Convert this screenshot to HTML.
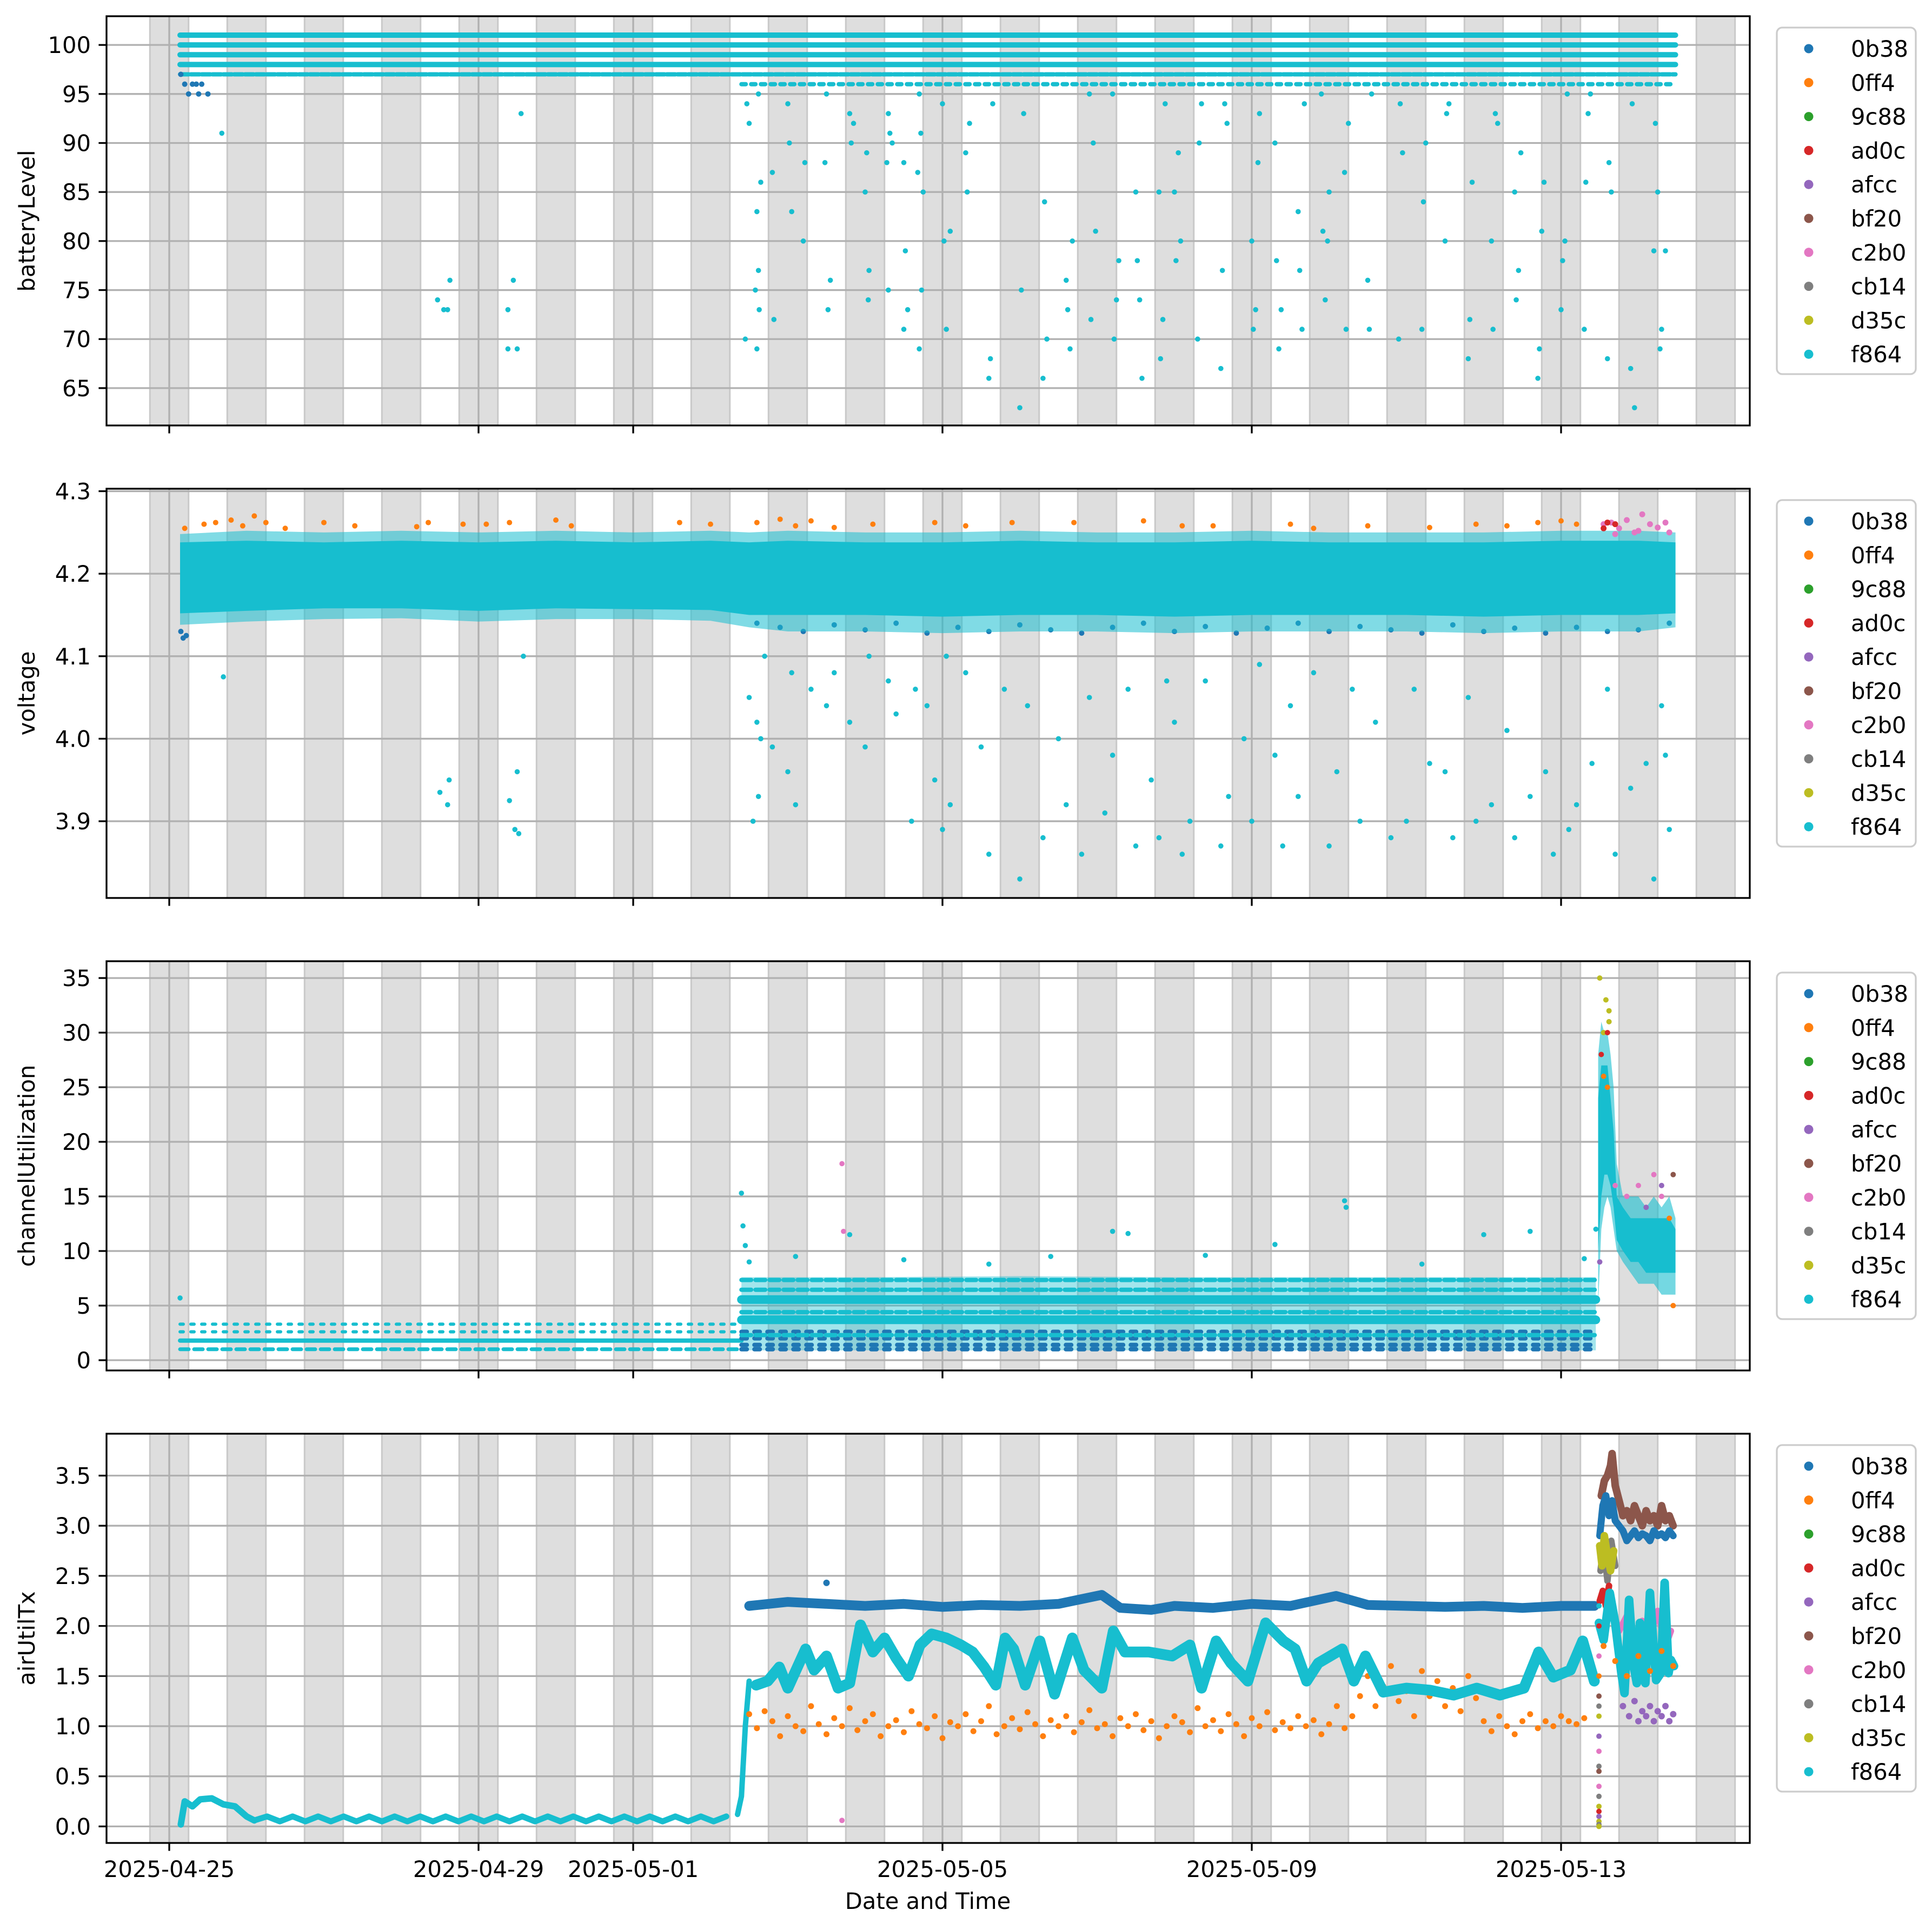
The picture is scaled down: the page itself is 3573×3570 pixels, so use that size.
<!DOCTYPE html>
<html><head><meta charset="utf-8">
<style>
html,body{margin:0;padding:0;background:#fff;}
svg{display:block;font-family:"DejaVu Sans","Liberation Sans",sans-serif;}
</style></head>
<body>
<svg id="fig" xmlns="http://www.w3.org/2000/svg" width="3573" height="3570" viewBox="0 0 3573 3570">
<rect x="0" y="0" width="3573" height="3570" fill="#fff"/>
</svg>
<script>
// ---------- data ----------
const seriesNames = ['0b38','0ff4','9c88','ad0c','afcc','bf20','c2b0','cb14','d35c','f864'];
const xTickDays = [0,4,6,10,14,18];
const xTickLabels = ['2025-04-25','2025-04-29','2025-05-01','2025-05-05','2025-05-09','2025-05-13'];
const nightStarts = [-0.25,0.75,1.75,2.75,3.75,4.75,5.75,6.75,7.75,8.75,9.75,10.75,11.75,12.75,13.75,14.75,15.75,16.75,17.75,18.75,19.75];
const yLabels = ['batteryLevel','voltage','channelUtilization','airUtilTx'];
const p1Ticks = [65,70,75,80,85,90,95,100];
const p2Ticks = [3.9,4.0,4.1,4.2,4.3];
const p3Ticks = [0,5,10,15,20,25,30,35];
const p4Ticks = [0.0,0.5,1.0,1.5,2.0,2.5,3.0,3.5];

// panel 1: battery
const p1Levels = [101,100,99,98,97];
const p1LevelStart = 0.14, p1LevelEnd = 19.48;
const p1Row96Start = 7.4;
const p1EarlyBlue = [[0.2,96],[0.3,96],[0.35,96],[0.42,96],[0.25,95],[0.38,95],[0.5,95],[0.15,97]];
const p1Outliers = [[0.68,91],[3.47,74],[3.55,73],[3.63,76],[3.6,73],[4.38,73],[4.45,76],[4.38,69],[4.5,69],[4.55,93],
[7.45,70],[7.47,94],[7.5,92],[7.6,83],[7.62,77],[7.58,75],[7.63,73],[7.6,69],[7.65,86],[7.62,95],[7.8,87],[7.82,72],
[8.0,94],[8.02,90],[8.05,83],[8.2,80],[8.22,88],[8.5,95],[8.48,88],[8.52,73],[8.55,76],[8.8,93],[8.82,90],[8.85,92],
[9.0,85],[9.02,89],[9.05,77],[9.04,74],[9.3,93],[9.32,91],[9.28,88],[9.35,90],[9.3,75],[9.5,88],[9.52,79],[9.55,73],[9.5,71],
[9.7,95],[9.72,91],[9.68,87],[9.75,85],[9.7,69],[9.73,75],[10.0,94],[10.02,80],[10.05,71],[10.1,81],[10.3,89],[10.32,85],[10.35,92],
[10.6,66],[10.62,68],[10.65,94],[11.0,63],[11.02,75],[11.05,93],[11.3,66],[11.32,84],[11.35,70],[11.6,76],[11.62,73],[11.65,69],[11.68,80],
[11.9,95],[11.92,72],[11.95,90],[11.98,81],[12.2,95],[12.22,70],[12.25,74],[12.28,78],[12.5,85],[12.52,78],[12.55,74],[12.58,66],
[12.8,85],[12.82,68],[12.85,72],[12.88,94],[13.0,85],[13.02,78],[13.05,89],[13.08,80],[13.3,70],[13.32,90],[13.35,94],
[13.6,67],[13.62,77],[13.65,94],[13.68,92],[14.0,80],[14.02,71],[14.05,73],[14.08,88],[14.1,93],[14.3,90],[14.32,78],[14.35,69],[14.38,73],
[14.6,83],[14.62,77],[14.65,71],[14.68,94],[14.9,95],[14.92,81],[14.95,74],[14.98,80],[15.0,85],[15.2,87],[15.22,71],[15.25,92],
[15.5,76],[15.52,71],[15.55,95],[15.9,70],[15.92,94],[15.95,89],[16.2,71],[16.22,84],[16.25,90],[16.5,80],[16.52,93],[16.55,94],
[16.8,68],[16.82,72],[16.85,86],[17.1,80],[17.12,71],[17.15,93],[17.18,92],[17.4,85],[17.42,74],[17.45,77],[17.48,89],
[17.7,66],[17.72,69],[17.75,81],[17.78,86],[18.0,73],[18.02,78],[18.05,80],[18.08,95],[18.3,71],[18.32,86],[18.35,93],[18.38,95],
[18.6,68],[18.62,88],[18.65,85],[18.9,67],[18.92,94],[18.95,63],[19.2,79],[19.22,92],[19.25,85],[19.28,69],[19.3,71],[19.35,79]];

// panel 2: voltage
const p2BandDays = [0.14,1,2,3,4,5,6,7,7.5,8,9,10,11,12,13,14,15,16,17,18,19,19.48];
const p2OuterLo = [4.138,4.142,4.145,4.146,4.142,4.145,4.145,4.143,4.135,4.13,4.13,4.128,4.13,4.13,4.128,4.13,4.13,4.13,4.128,4.13,4.13,4.135];
const p2OuterHi = [4.248,4.252,4.25,4.252,4.25,4.252,4.25,4.252,4.25,4.252,4.25,4.25,4.252,4.25,4.25,4.252,4.25,4.25,4.25,4.252,4.252,4.25];
const p2CoreLo = [4.152,4.155,4.158,4.158,4.155,4.158,4.157,4.156,4.15,4.15,4.15,4.148,4.15,4.15,4.148,4.15,4.15,4.15,4.148,4.15,4.15,4.152];
const p2CoreHi = [4.238,4.24,4.238,4.24,4.238,4.24,4.238,4.24,4.238,4.24,4.238,4.238,4.24,4.238,4.238,4.24,4.238,4.238,4.238,4.24,4.24,4.238];
const p2Orange = [[0.2,4.255],[0.45,4.26],[0.6,4.262],[0.8,4.265],[0.95,4.258],[1.1,4.27],[1.25,4.262],[1.5,4.255],[2.0,4.262],[2.4,4.258],
[3.2,4.257],[3.35,4.262],[3.8,4.26],[4.1,4.26],[4.4,4.262],[5.0,4.265],[5.2,4.258],[6.6,4.262],[7.0,4.26],[7.6,4.262],[7.9,4.266],
[8.1,4.258],[8.3,4.264],[8.6,4.256],[9.1,4.26],[9.9,4.262],[10.3,4.258],[10.9,4.262],[11.7,4.262],[12.6,4.264],[13.1,4.258],[13.5,4.258],
[14.5,4.26],[14.8,4.255],[15.5,4.258],[16.3,4.256],[16.9,4.26],[17.3,4.258],[17.7,4.262],[18.0,4.264],[18.2,4.26]];
const p2Blue = [[0.15,4.13],[0.18,4.122],[0.22,4.125],[7.6,4.14],[7.9,4.135],[8.2,4.13],[8.6,4.138],[9.0,4.132],[9.4,4.14],[9.8,4.128],
[10.2,4.135],[10.6,4.13],[11.0,4.138],[11.4,4.132],[11.8,4.128],[12.2,4.135],[12.6,4.14],[13.0,4.13],[13.4,4.136],[13.8,4.128],
[14.2,4.134],[14.6,4.14],[15.0,4.13],[15.4,4.136],[15.8,4.132],[16.2,4.128],[16.6,4.138],[17.0,4.13],[17.4,4.134],[17.8,4.128],[18.2,4.135],[18.6,4.13],[19.0,4.132],[19.4,4.14]];
const p2CyanOut = [[0.7,4.075],[3.5,3.935],[3.6,3.92],[3.62,3.95],[4.4,3.925],[4.47,3.89],[4.52,3.885],[4.5,3.96],[4.58,4.1],
[7.5,4.05],[7.55,3.9],[7.6,4.02],[7.62,3.93],[7.65,4.0],[7.7,4.1],[7.8,3.99],[8.0,3.96],[8.05,4.08],[8.1,3.92],[8.3,4.06],
[8.5,4.04],[8.6,4.08],[8.8,4.02],[9.0,3.99],[9.05,4.1],[9.3,4.07],[9.4,4.03],[9.6,3.9],[9.65,4.06],[9.8,4.04],[9.9,3.95],
[10.0,3.89],[10.05,4.1],[10.1,3.92],[10.3,4.08],[10.5,3.99],[10.6,3.86],[10.8,4.06],[11.0,3.83],[11.1,4.04],[11.3,3.88],
[11.5,4.0],[11.6,3.92],[11.8,3.86],[11.9,4.05],[12.1,3.91],[12.2,3.98],[12.4,4.06],[12.5,3.87],[12.7,3.95],[12.8,3.88],[12.9,4.07],
[13.0,4.02],[13.1,3.86],[13.2,3.9],[13.4,4.07],[13.6,3.87],[13.7,3.93],[13.9,4.0],[14.0,3.9],[14.1,4.09],[14.3,3.98],[14.4,3.87],
[14.5,4.04],[14.6,3.93],[14.8,4.08],[15.0,3.87],[15.1,3.96],[15.3,4.06],[15.4,3.9],[15.6,4.02],[15.8,3.88],[16.0,3.9],[16.1,4.06],
[16.3,3.97],[16.5,3.96],[16.6,3.88],[16.8,4.05],[16.9,3.9],[17.1,3.92],[17.3,4.01],[17.4,3.88],[17.6,3.93],[17.8,3.96],[17.9,3.86],
[18.1,3.89],[18.2,3.92],[18.4,3.97],[18.6,4.06],[18.7,3.86],[18.9,3.94],[19.1,3.97],[19.2,3.83],[19.3,4.04],[19.35,3.98],[19.4,3.89]];
const p2Pink = [[18.55,4.26],[18.65,4.262],[18.75,4.255],[18.85,4.265],[18.95,4.25],[19.05,4.272],[19.15,4.26],[19.25,4.256],[19.35,4.262],[19.4,4.25],[18.7,4.248],[19.0,4.252]];
const p2Red = [[18.55,4.255],[18.6,4.262],[18.7,4.26]];

// panel 3: channelUtilization
const p3EarlyStart = 0.14, p3EarlyEnd = 7.4;
const p3EarlyLevels = [1.8,1.0,2.6,3.3];
const p3MidStart = 7.4, p3MidEnd = 18.45;
const p3MidBandDays = [7.4,9,11,13,15,17,18.45];
const p3MidBandLo = [0.9,0.9,0.9,0.9,0.9,0.9,0.9];
const p3MidBandHi = [7.6,7.6,7.7,7.6,7.6,7.6,7.6];
const p3ThickLevels = [5.55,3.7];
const p3ThinLevels = [7.35,6.45,4.4,2.3];
const p3BlueLevels = [1.0,1.4,2.0,2.6];
const p3Outliers = [[0.14,5.7],[7.4,15.3],[7.42,12.3],[7.45,10.5],[7.5,9.0],[8.1,9.5],[8.8,11.5],[9.5,9.2],[10.6,8.8],[11.4,9.5],
[12.2,11.8],[12.4,11.6],[13.4,9.6],[14.3,10.6],[15.2,14.6],[15.22,14.0],[16.2,8.8],[17.0,11.5],[17.6,11.8],[18.3,9.3],[18.45,12.0]];
const p3Pink = [[8.7,18.0],[8.72,11.8]];
const p3EndDays = [18.48,18.52,18.56,18.6,18.64,18.68,18.72,18.8,18.9,19.0,19.1,19.2,19.3,19.4,19.48];
const p3EndLo = [5,12,14,15,14,12,10,9,8,7,7,7,6,6,6];
const p3EndHi = [28,31,30,30,28,25,18,15,15,15,14,15,14,15,13];
const p3EndCoreLo = [10,15,17,17,16,14,11,10,9,9,8,8,8,8,8];
const p3EndCoreHi = [24,27,27,27,24,21,15,14,13,13,13,13,13,13,12];
const p3EndColored = [[18.55,30,8],[18.58,33,8],[18.62,31,8],[18.52,28,3],[18.6,30,3],[18.55,26,1],[18.6,25,1],[18.5,35,8],
[18.62,32,8],[18.7,16,6],[18.85,15,6],[19.0,16,6],[19.2,17,6],[19.3,15,6],[19.45,17,5],[19.1,14,4],[19.3,16,4],[19.4,13,1],[19.45,5,1],[18.5,9,4]];

// panel 4: airUtilTx
const p4EarlyDays = [0.15,0.2,0.3,0.4,0.55,0.7,0.85,1.0,1.1];
const p4EarlyVals = [0.02,0.25,0.2,0.27,0.28,0.22,0.2,0.1,0.06];
const p4OscStart = 1.1, p4OscStep = 0.165;
const p4OscVals = [0.06,0.1,0.05,0.1,0.05,0.1,0.05,0.1,0.05,0.1,0.05,0.1,0.05,0.1,0.05,0.1,0.05,0.1,0.05,0.1,0.05,0.1,0.05,0.1,0.05,0.1,0.05,0.1,0.05,0.1,0.05,0.1,0.05,0.1,0.05,0.1,0.05,0.1];
const p4RiseDays = [7.35,7.4,7.45,7.5];
const p4RiseVals = [0.12,0.3,1.0,1.45];
const p4CyanDays = [7.59,7.74,7.89,8.0,8.23,8.34,8.5,8.65,8.8,8.94,9.1,9.25,9.4,9.56,9.71,9.86,10.05,10.24,10.39,10.54,10.69,10.81,10.92,11.07,11.26,11.45,11.68,11.83,12.06,12.21,12.36,12.67,12.97,13.2,13.35,13.54,13.73,13.95,14.18,14.41,14.56,14.71,14.86,15.17,15.32,15.47,15.7,16.0,16.3,16.61,16.91,17.21,17.52,17.71,17.9,18.12,18.28,18.43];
const p4CyanVals = [1.41,1.45,1.59,1.38,1.77,1.56,1.7,1.38,1.43,2.01,1.74,1.88,1.68,1.5,1.81,1.92,1.88,1.81,1.74,1.59,1.41,1.88,1.77,1.41,1.85,1.32,1.88,1.56,1.38,1.95,1.74,1.74,1.7,1.81,1.38,1.85,1.63,1.45,2.03,1.85,1.77,1.45,1.63,1.77,1.45,1.7,1.34,1.38,1.36,1.31,1.38,1.31,1.38,1.74,1.49,1.56,1.85,1.45];
const p4BlueDays = [7.5,8.0,8.5,9.0,9.5,10.0,10.5,11.0,11.5,12.06,12.3,12.7,13.0,13.5,14.0,14.5,15.09,15.5,16.0,16.5,17.0,17.5,18.0,18.43];
const p4BlueVals = [2.2,2.24,2.22,2.2,2.22,2.19,2.21,2.2,2.22,2.31,2.18,2.16,2.2,2.18,2.22,2.2,2.3,2.21,2.2,2.19,2.2,2.18,2.2,2.2];
const p4OrangeStart = 7.5, p4OrangeStep = 0.1;
const p4OrangeVals = [1.12,0.98,1.15,1.05,0.9,1.1,1.0,0.95,1.2,1.02,0.92,1.08,1.0,1.18,0.96,1.05,1.12,0.9,1.0,1.06,0.94,1.15,1.02,0.98,1.1,0.88,1.04,1.0,1.12,0.95,
1.05,1.2,0.92,1.0,1.08,0.97,1.14,1.02,0.9,1.06,1.0,1.1,0.94,1.04,1.16,0.98,1.02,0.9,1.08,1.0,1.12,0.96,1.05,0.88,1.0,1.1,1.04,0.94,1.18,1.0,
1.06,0.95,1.12,1.02,0.9,1.08,1.0,1.14,0.96,1.04,0.98,1.1,1.0,1.06,0.92,1.02,1.2,0.98,1.1,1.3,1.5,1.2,1.4,1.6,1.25,1.35,1.1,1.55,1.3,1.45,
1.2,1.38,1.15,1.5,1.28,1.05,0.95,1.1,1.0,0.92,1.05,1.12,0.98,1.05,1.0,1.1,1.05,1.02,1.08];
const p4ColumnVals = [[2.2,9],[2.0,3],[1.7,6],[1.5,1],[1.3,5],[1.2,7],[1.1,8],[0.9,4],[0.75,6],[0.6,7],[0.55,5],[0.4,6],[0.3,7],[0.2,8],[0.15,3],[0.1,4],[0.05,8],[0.02,7],[0.0,8]];
const p4EndCyanDays = [18.49,18.55,18.63,18.7,18.78,18.82,18.88,18.94,18.98,19.02,19.05,19.09,19.15,19.19,19.23,19.29,19.34,19.39,19.42,19.46];
const p4EndCyanVals = [2.03,1.86,2.33,2.03,1.53,1.33,2.26,1.6,1.43,2.03,1.86,1.43,2.33,1.86,1.46,1.53,2.43,1.53,1.66,1.6];
const p4BrownDays = [18.52,18.56,18.6,18.64,18.66,18.7,18.75,18.8,18.85,18.9,18.95,19.0,19.05,19.1,19.15,19.2,19.25,19.3,19.35,19.4,19.45];
const p4BrownVals = [3.3,3.45,3.5,3.6,3.72,3.4,3.25,3.1,3.15,3.05,3.2,3.1,3.0,3.15,3.05,3.1,3.0,3.2,3.05,3.1,3.0];
const p4DarkBlueDays = [18.5,18.54,18.58,18.62,18.66,18.7,18.75,18.8,18.85,18.9,18.95,19.0,19.05,19.1,19.15,19.2,19.25,19.3,19.35,19.4,19.45];
const p4DarkBlueVals = [2.9,3.2,3.3,3.1,3.25,3.05,3.0,2.95,2.85,2.9,2.95,2.88,2.92,2.9,2.85,2.95,2.9,2.92,2.88,2.95,2.9];
const p4YellowDays = [18.5,18.53,18.56,18.6,18.64,18.68];
const p4YellowVals = [2.8,2.6,2.9,2.7,2.55,2.75];
const p4GrayDays = [18.51,18.55,18.6,18.65,18.7];
const p4GrayVals = [2.55,2.8,2.45,2.85,2.6];
const p4RedDays = [18.5,18.54,18.58,18.62];
const p4RedVals = [2.25,2.35,2.2,2.4];
const p4PinkDays = [18.65,18.75,18.85,18.95,19.05,19.15,19.25,19.35,19.42];
const p4PinkVals = [2.2,1.95,2.1,1.85,2.05,1.9,2.15,1.8,1.95];
const p4PurpleDays = [18.8,18.88,18.95,19.0,19.05,19.1,19.15,19.2,19.25,19.3,19.35,19.4,19.45];
const p4PurpleVals = [1.2,1.1,1.25,1.05,1.15,1.1,1.2,1.05,1.15,1.1,1.2,1.05,1.12];
const p4OrangeEndDays = [18.55,18.7,18.85,19.0,19.15,19.3,19.45];
const p4OrangeEndVals = [1.8,1.65,1.5,1.7,1.55,1.75,1.6];

// ---------- layout ----------
const COLORS = ['#1f77b4','#ff7f0e','#2ca02c','#d62728','#9467bd','#8c564b','#e377c2','#7f7f7f','#bcbd22','#17becf'];
const AX_L = 197, AX_R = 3236, AX_H = 757;
const TOPS = [30,904,1778,2652];
const RANGES = [[61.19,102.93],[3.807,4.303],[-0.94,36.54],[-0.165,3.918]];
const NS = 'http://www.w3.org/2000/svg';
const svg = document.getElementById('fig');
function xs(d){ return 313 + 143*d; }
function ys(p,v){ const r = RANGES[p]; return TOPS[p] + (r[1]-v)/(r[1]-r[0])*AX_H; }
function mk(tag, attrs, parent){
  const el = document.createElementNS(NS, tag);
  for (const k in attrs) el.setAttribute(k, attrs[k]);
  parent.appendChild(el);
  return el;
}
function dot(g,p,d,v,color,r){
  const c = mk('circle',{cx:xs(d),cy:ys(p,v),r:r||4.5,fill:color},g);
  
  
  return c;
}
function line(g,p,days,vals,color,w,dash){
  let s='';
  for(let i=0;i<days.length;i++) s += (i?'L':'M') + xs(days[i]).toFixed(1) + ' ' + ys(p,vals[i]).toFixed(1);
  const a = {d:s,fill:'none',stroke:color,'stroke-width':w,'stroke-linejoin':'round','stroke-linecap':'round'};
  if (dash) a['stroke-dasharray']=dash;
  const el = mk('path',a,g);
  
  
  return el;
}
function band(g,p,days,lo,hi,color,op){
  let s='';
  for(let i=0;i<days.length;i++) s += (i?'L':'M') + xs(days[i]).toFixed(1) + ' ' + ys(p,hi[i]).toFixed(1);
  for(let i=days.length-1;i>=0;i--) s += 'L' + xs(days[i]).toFixed(1) + ' ' + ys(p,lo[i]).toFixed(1);
  const el = mk('path',{d:s+'Z',fill:color,'fill-opacity':op,stroke:'none'},g);
  
  
  return el;
}
function fmt(p,v){
  if (p===1) return v.toFixed(1);
  if (p===3) return v.toFixed(1);
  return String(v);
}
const TICKS = [p1Ticks,p2Ticks,p3Ticks,p4Ticks];
const dataGroups = [];

for (let p=0;p<4;p++){
  const top = TOPS[p], bot = top+AX_H;
  const panel = mk('g',{},svg);
  
  
  const clip = mk('clipPath',{id:'clip'+p},panel);
  mk('rect',{x:AX_L,y:top,width:AX_R-AX_L,height:AX_H},clip);
  const inner = mk('g',{'clip-path':'url(#clip'+p+')'},panel);
  for (const ns of nightStarts){
    const sp = mk('rect',{x:xs(ns),y:top,width:143*0.5,height:AX_H,fill:'#dedede',stroke:'#c9c9c9','stroke-width':3},inner);
    
    
  }
  for (const t of TICKS[p]){
    const gl = mk('line',{x1:AX_L,x2:AX_R,y1:ys(p,t),y2:ys(p,t),stroke:'#b0b0b0','stroke-width':3.3},inner);
    
    
  }
  for (const d of xTickDays){
    const gl = mk('line',{x1:xs(d),x2:xs(d),y1:top,y2:bot,stroke:'#b0b0b0','stroke-width':3.3},inner);
    
    
  }
  const dg = mk('g',{},inner);
  
  
  dataGroups.push(dg);
  const fr = mk('rect',{x:AX_L,y:top,width:AX_R-AX_L,height:AX_H,fill:'none',stroke:'#000','stroke-width':3.3},panel);
  
  
  for (const t of TICKS[p]){
    const y = ys(p,t);
    const tk = mk('line',{x1:AX_L-14.6,x2:AX_L,y1:y,y2:y,stroke:'#000','stroke-width':3.3},panel);
    
    
    const tl = mk('text',{x:AX_L-29,y:y+15,'font-size':41.7,'text-anchor':'end',fill:'#000'},panel);
    tl.textContent = fmt(p,t);
    
    
  }
  for (let i=0;i<xTickDays.length;i++){
    const x = xs(xTickDays[i]);
    const tk = mk('line',{x1:x,x2:x,y1:bot,y2:bot+14.6,stroke:'#000','stroke-width':3.3},panel);
    
    
    if (p===3){
      const tl = mk('text',{x:x,y:bot+63,'font-size':41.7,'text-anchor':'middle',fill:'#000'},panel);
      tl.textContent = xTickLabels[i];
      
      
    }
  }
  const cy = top + AX_H/2;
  const yl = mk('text',{x:64,y:cy,'font-size':41.7,'text-anchor':'middle',fill:'#000',transform:'rotate(-90 64 '+cy+')'},panel);
  yl.textContent = yLabels[p];
  
  
  const lg = mk('g',{},panel);
  
  
  const lb = mk('rect',{x:3286,y:top+21,width:257,height:641,rx:10,ry:10,fill:'#fff','fill-opacity':0.8,stroke:'#cccccc','stroke-width':3.3},lg);
  
  
  for (let i=0;i<seriesNames.length;i++){
    const ey = top + 60 + i*62.8;
    const m = mk('ellipse',{cx:3345,cy:ey,rx:8.5,ry:8.5,fill:COLORS[i]},lg);
    
    
    const t = mk('text',{x:3423,y:ey+15,'font-size':41.7,fill:'#000'},lg);
    t.textContent = seriesNames[i];
    
    
  }
}
const xt = mk('text',{x:1716,y:3531,'font-size':41.7,'text-anchor':'middle',fill:'#000'},svg);
xt.textContent = 'Date and Time';



const CY = COLORS[9];
// ---------- panel 1 ----------
(function(){
  const g = dataGroups[0];
  for (const lv of p1Levels){
    line(g,0,[p1LevelStart,p1LevelEnd],[lv,lv],CY,lv===97?8:10, lv===97?'16 4':null);
  }
  line(g,0,[p1Row96Start,p1LevelEnd],[96,96],CY,8,'8 10');
  for (const pt of p1EarlyBlue) dot(g,0,pt[0],pt[1],COLORS[0],5);
  for (const pt of p1Outliers) dot(g,0,pt[0],pt[1],CY,4.8);
})();
// ---------- panel 2 ----------
(function(){
  const g = dataGroups[1];
  for (const pt of p2Blue) dot(g,1,pt[0],pt[1],COLORS[0],5);
  band(g,1,p2BandDays,p2OuterLo,p2OuterHi,CY,0.55);
  band(g,1,p2BandDays,p2CoreLo,p2CoreHi,CY,1);
  for (const pt of p2Orange) dot(g,1,pt[0],pt[1],COLORS[1],5);
  for (const pt of p2CyanOut) dot(g,1,pt[0],pt[1],CY,4.8);
  for (const pt of p2Pink) dot(g,1,pt[0],pt[1],COLORS[6],5.5);
  for (const pt of p2Red) dot(g,1,pt[0],pt[1],COLORS[3],5.5);
})();
// ---------- panel 3 ----------
(function(){
  const g = dataGroups[2];
  const earlyStyles = [[8,null],[7,'16 10'],[6,'6 14'],[6,'6 14']];
  for (let i=0;i<p3EarlyLevels.length;i++){
    line(g,2,[p3EarlyStart,p3EarlyEnd],[p3EarlyLevels[i],p3EarlyLevels[i]],CY,earlyStyles[i][0],earlyStyles[i][1]);
  }
  band(g,2,p3MidBandDays,p3MidBandLo,p3MidBandHi,CY,0.4);
  for (const lv of p3BlueLevels) line(g,2,[p3MidStart,p3MidEnd],[lv,lv],COLORS[0],8,'10 14');
  for (const lv of p3ThinLevels) line(g,2,[p3MidStart,p3MidEnd],[lv,lv],CY,8,'18 8');
  for (const lv of p3ThickLevels) line(g,2,[p3MidStart,p3MidEnd],[lv,lv],CY,16);
  for (const pt of p3Outliers) dot(g,2,pt[0],pt[1],CY,4.8);
  for (const pt of p3Pink) dot(g,2,pt[0],pt[1],COLORS[6],4.8);
  band(g,2,p3EndDays,p3EndLo,p3EndHi,CY,0.6);
  band(g,2,p3EndDays,p3EndCoreLo,p3EndCoreHi,CY,1);
  for (const pt of p3EndColored) dot(g,2,pt[0],pt[1],COLORS[pt[2]],5);
})();
// ---------- panel 4 ----------
(function(){
  const g = dataGroups[3];
  line(g,3,p4EarlyDays,p4EarlyVals,CY,12);
  const oscDays = p4OscVals.map((v,i)=>p4OscStart + i*p4OscStep);
  line(g,3,oscDays,p4OscVals,CY,11);
  line(g,3,p4RiseDays,p4RiseVals,CY,10);
  for (let i=0;i<p4OrangeVals.length;i++) dot(g,3,p4OrangeStart+i*p4OrangeStep,p4OrangeVals[i],COLORS[1],5.5);
  line(g,3,p4BlueDays,p4BlueVals,COLORS[0],18);
  dot(g,3,8.5,2.43,COLORS[0],6);
  line(g,3,p4CyanDays,p4CyanVals,CY,20);
  line(g,3,p4BrownDays,p4BrownVals,COLORS[5],14);
  line(g,3,p4DarkBlueDays,p4DarkBlueVals,COLORS[0],13);
  line(g,3,p4GrayDays,p4GrayVals,COLORS[7],12);
  line(g,3,p4YellowDays,p4YellowVals,COLORS[8],14);
  line(g,3,p4RedDays,p4RedVals,COLORS[3],12);
  line(g,3,p4PinkDays,p4PinkVals,COLORS[6],12);
  line(g,3,p4EndCyanDays,p4EndCyanVals,CY,16);
  for (let i=0;i<p4PurpleDays.length;i++) dot(g,3,p4PurpleDays[i],p4PurpleVals[i],COLORS[4],6);
  for (let i=0;i<p4OrangeEndDays.length;i++) dot(g,3,p4OrangeEndDays[i],p4OrangeEndVals[i],COLORS[1],5.5);
  for (const pt of p4ColumnVals) dot(g,3,18.49,pt[0],COLORS[pt[1]],5);
  dot(g,3,8.7,0.06,COLORS[6],5);
})();
</script>
</body></html>
